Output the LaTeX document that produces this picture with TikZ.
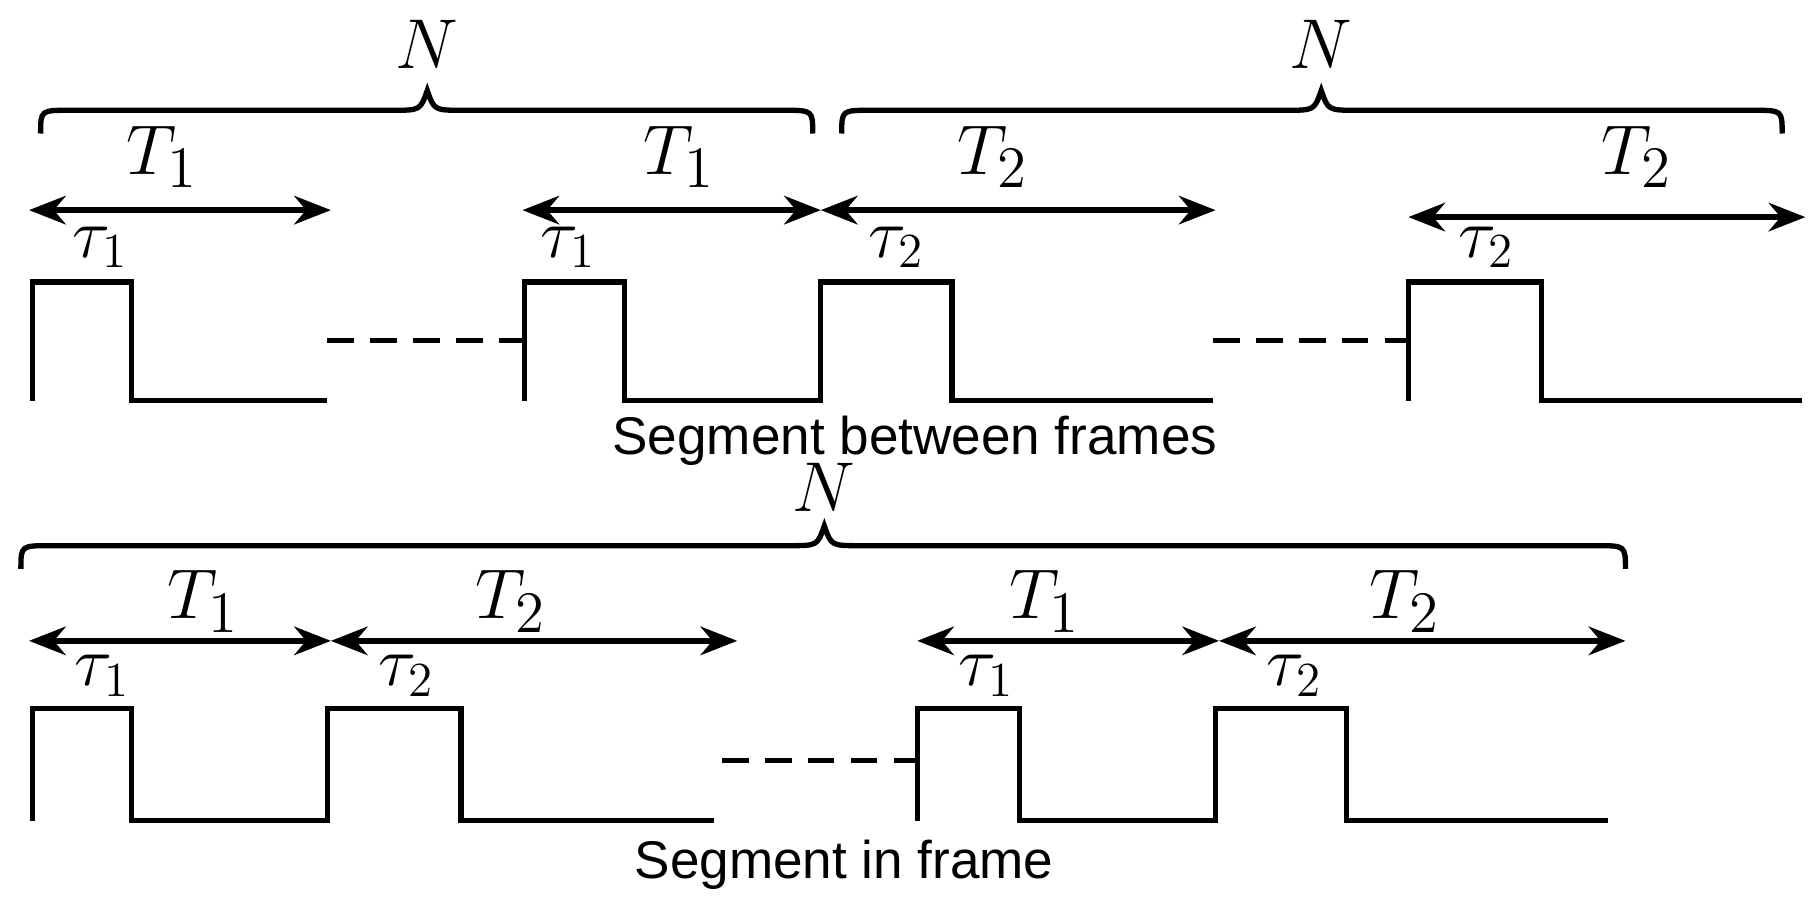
\documentclass[tikz,border=0pt]{standalone}
\usepackage{fontspec}
\setmainfont{Liberation Sans}
\usepackage{amsmath}
\usetikzlibrary{arrows.meta}
\begin{document}
\begin{tikzpicture}[x=0.01cm,y=-0.01cm,
  sig/.style={line width=1.3pt},
  dim/.style={line width=1.3pt,{Stealth[length=9pt,width=7pt]}-{Stealth[length=9pt,width=7pt]}},
  gap/.style={line width=1.3pt,dash pattern=on 6.5pt off 4pt},
  brc/.style={line width=1.3pt},
  lbl/.style={font=\fontsize{19}{22}\selectfont},
  tl/.style={font=\fontsize{17}{20}\selectfont},
  captxt/.style={font=\fontsize{13}{15}\selectfont}]
\useasboundingbox (0,0) rectangle (1565,780);
% top row pulses
\draw[sig] (28,345) -- (28,243) -- (113,243) -- (113,345) -- (282,345);
\draw[gap] (282,293) -- (452,293);
\draw[sig] (452,345) -- (452,243) -- (538,243) -- (538,345) -- (707,345)
  -- (707,243) -- (820,243) -- (820,345) -- (1045,345);
\draw[gap] (1045,293) -- (1213,293);
\draw[sig] (1213,345) -- (1213,243) -- (1328,243) -- (1328,345) -- (1552,345);
% top row arrows
\coordinate (a1) at (25,181); \coordinate (a2) at (285,181);
\coordinate (a3) at (450,181); \coordinate (a4) at (707,181);
\coordinate (a5) at (1047,181);
\coordinate (a6) at (1213,187); \coordinate (a7) at (1555,187);
\draw[dim] (a1) -- (a2);
\draw[dim] (a3) -- (a4);
\draw[dim] (a4) -- (a5);
\draw[dim] (a6) -- (a7);
\node[lbl] (t1) at (140,135) {$T_1$};
\node[lbl] (t2) at (585,135) {$T_1$};
\node[lbl] (t3) at (855,135) {$T_2$};
\node[lbl] (t4) at (1410,135) {$T_2$};
\node[tl] (s1) at (87,213) {$\tau_1$};
\node[tl] (s2) at (490,213) {$\tau_1$};
\node[tl] (s3) at (772,213) {$\tau_2$};
\node[tl] (s4) at (1280,213) {$\tau_2$};
% top braces
\draw[brc] (35,115) .. controls (35,95) .. (60,95) -- (338,95)
  .. controls (362,95) .. (368,78) .. controls (374,95) .. (398,95) -- (675,95)
  .. controls (700,95) .. (700,115);
\draw[brc] (725,115) .. controls (725,95) .. (750,95) -- (1108,95)
  .. controls (1132,95) .. (1138,78) .. controls (1144,95) .. (1168,95) -- (1510,95)
  .. controls (1535,95) .. (1535,115);
\node[lbl] (n1) at (368,38) {$N$};
\node[lbl] (n2) at (1138,38) {$N$};
\node[captxt] (c1) at (788,380) {Segment between frames};
% bottom row pulses
\draw[sig] (28,707) -- (28,610) -- (113,610) -- (113,707) -- (282,707)
  -- (282,610) -- (397,610) -- (397,707) -- (615,707);
\draw[gap] (622,655) -- (790,655);
\draw[sig] (790,707) -- (790,610) -- (878,610) -- (878,707) -- (1047,707)
  -- (1047,610) -- (1160,610) -- (1160,707) -- (1385,707);
% bottom row arrows
\coordinate (b1) at (25,552); \coordinate (b2) at (285,552);
\coordinate (b3) at (635,552); \coordinate (b4) at (790,552);
\coordinate (b5) at (1050,552); \coordinate (b6) at (1400,552);
\draw[dim] (b1) -- (b2);
\draw[dim] (b2) -- (b3);
\draw[dim] (b4) -- (b5);
\draw[dim] (b5) -- (b6);
\node[lbl] (u1) at (175,518) {$T_1$};
\node[lbl] (u2) at (440,518) {$T_2$};
\node[lbl] (u3) at (900,518) {$T_1$};
\node[lbl] (u4) at (1210,518) {$T_2$};
\node[tl] (r1) at (88,582) {$\tau_1$};
\node[tl] (r2) at (350,582) {$\tau_2$};
\node[tl] (r3) at (850,582) {$\tau_1$};
\node[tl] (r4) at (1115,582) {$\tau_2$};
% bottom brace
\draw[brc] (18,490) .. controls (18,470) .. (43,470) -- (680,470)
  .. controls (704,470) .. (710,453) .. controls (716,470) .. (740,470) -- (1375,470)
  .. controls (1400,470) .. (1400,490);
\node[lbl] (n3) at (710,420) {$N$};
\node[captxt] (c2) at (727,745) {Segment in frame};
\end{tikzpicture}
\end{document}
